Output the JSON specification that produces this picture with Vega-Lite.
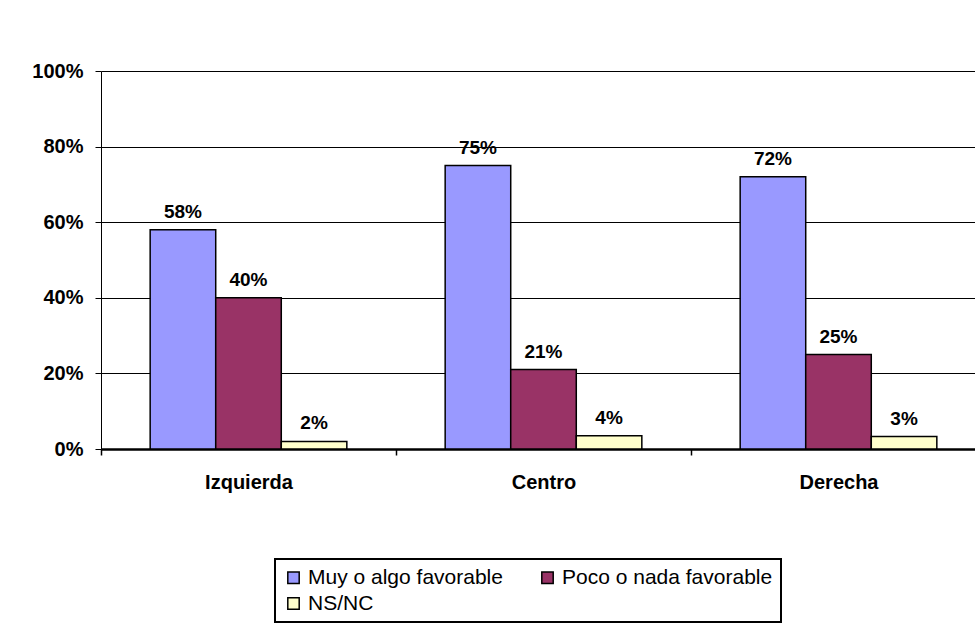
{
  "$schema": "https://vega.github.io/schema/vega-lite/v6.json",
  "autosize": "none",
  "width": 874,
  "height": 378,
  "padding": {"left": 101, "top": 71, "right": 0, "bottom": 174},
  "background": "white",
  "config": {
    "view": {"stroke": null},
    "font": "Liberation Sans",
    "axis": {"labelFont": "Liberation Sans", "labelColor": "black", "labelFontWeight": "bold", "labelFontSize": 20}
  },
  "data": {
    "values": [
      {"grupo": "Izquierda", "respuesta": "Muy o algo favorable", "valor": 0.58, "etiqueta": "58%"},
      {"grupo": "Izquierda", "respuesta": "Poco o nada favorable", "valor": 0.40, "etiqueta": "40%"},
      {"grupo": "Izquierda", "respuesta": "NS/NC", "valor": 0.02, "etiqueta": "2%"},
      {"grupo": "Centro", "respuesta": "Muy o algo favorable", "valor": 0.75, "etiqueta": "75%"},
      {"grupo": "Centro", "respuesta": "Poco o nada favorable", "valor": 0.21, "etiqueta": "21%"},
      {"grupo": "Centro", "respuesta": "NS/NC", "valor": 0.035, "etiqueta": "4%"},
      {"grupo": "Derecha", "respuesta": "Muy o algo favorable", "valor": 0.72, "etiqueta": "72%"},
      {"grupo": "Derecha", "respuesta": "Poco o nada favorable", "valor": 0.25, "etiqueta": "25%"},
      {"grupo": "Derecha", "respuesta": "NS/NC", "valor": 0.033, "etiqueta": "3%"}
    ]
  },
  "encoding": {
    "x": {
      "field": "grupo",
      "type": "nominal",
      "sort": ["Izquierda", "Centro", "Derecha"],
      "scale": {"range": [0, 885], "paddingInner": 0, "paddingOuter": 0},
      "axis": {
        "title": null,
        "labelAngle": 0,
        "tickBand": "extent",
        "tickSize": 6,
        "tickColor": "black",
        "tickWidth": 1.5,
        "domainColor": "black",
        "domainWidth": 2.5,
        "labelPadding": 17,
        "grid": false
      }
    },
    "xOffset": {
      "field": "respuesta",
      "type": "nominal",
      "sort": ["Muy o algo favorable", "Poco o nada favorable", "NS/NC"],
      "scale": {"paddingInner": 0, "paddingOuter": 0.75}
    },
    "y": {
      "field": "valor",
      "type": "quantitative",
      "scale": {"domain": [0, 1], "nice": false},
      "axis": {
        "title": null,
        "format": ".0%",
        "values": [0, 0.2, 0.4, 0.6, 0.8, 1],
        "grid": true,
        "gridColor": "black",
        "gridOpacity": 1,
        "gridWidth": 1,
        "tickSize": 6,
        "tickColor": "black",
        "domainColor": "black",
        "domainWidth": 1,
        "labelPadding": 12
      }
    }
  },
  "layer": [
    {
      "mark": {"type": "bar", "stroke": "black", "strokeWidth": 1.5},
      "encoding": {
        "color": {
          "field": "respuesta",
          "type": "nominal",
          "sort": ["Muy o algo favorable", "Poco o nada favorable", "NS/NC"],
          "scale": {
            "domain": ["Muy o algo favorable", "Poco o nada favorable", "NS/NC"],
            "range": ["#9999FF", "#993366", "#FFFFCC"]
          },
          "legend": {
            "title": null,
            "orient": "none",
            "legendX": 174,
            "legendY": 488,
            "direction": "horizontal",
            "columns": 2,
            "symbolType": "square",
            "symbolSize": 130,
            "symbolStrokeColor": "black",
            "symbolStrokeWidth": 1.5,
            "symbolOpacity": 1,
            "labelFont": "Liberation Sans",
            "labelFontSize": 21,
            "labelColor": "black",
            "labelOffset": 4,
            "labelLimit": 400,
            "strokeColor": "black",
            "padding": 8,
            "rowPadding": 4,
            "columnPadding": 34,
            "encode": {"legend": {"update": {"strokeWidth": {"value": 2}}}}
          }
        }
      }
    },
    {
      "mark": {"type": "text", "dy": -12, "fontWeight": "bold", "fontSize": 19, "baseline": "alphabetic", "color": "black"},
      "encoding": {"text": {"field": "etiqueta"}}
    }
  ]
}
